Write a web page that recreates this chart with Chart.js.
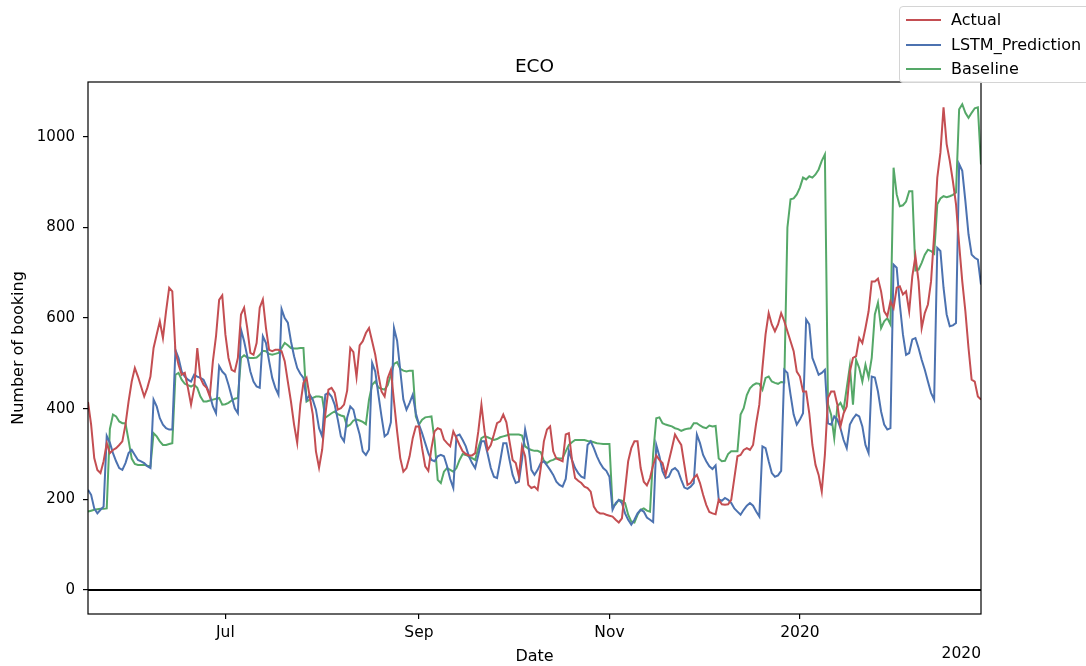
<!DOCTYPE html>
<html>
<head>
<meta charset="utf-8">
<script src="https://cdn.jsdelivr.net/npm/chart.js@4.4.1/dist/chart.umd.min.js"></script>
<style>
  html, body { margin: 0; padding: 0; background: #fff; overflow: hidden; }
  #wrap { position: relative; width: 1086px; height: 666px; }
  #leyenda {
    position: absolute; left: 899px; top: 6px; width: 200px; height: 75px;
    border: 1px solid #d4d4d4; border-radius: 4px; background: rgba(255,255,255,0.85);
    font-family: "DejaVu Sans", sans-serif; font-size: 16px; color: #000;
  }
  .fila { position: absolute; left: 0; height: 20px; line-height: 20px; white-space: nowrap; }
  .fila span.linea { position: absolute; left: 6px; top: 9px; width: 35px; height: 2px; }
  .fila span.txt { position: absolute; left: 51px; top: 0; }
</style>
</head>
<body>
<div id="wrap">
  <canvas id="grafico" width="1086" height="666"></canvas>
  <div id="leyenda"></div>
</div>
<script>
// dias desde el 2019-05-18, un valor por dia
const fechaInicio = new Date(2019, 4, 18);
const nombresSeries = ['Actual', 'LSTM_Prediction', 'Baseline'];
const coloresSeries = ['#c44e52', '#4c72b0', '#55a868'];

const actual = [
  415, 365, 291, 265, 258, 284, 324, 302, 309, 313, 320, 328, 365, 416, 460, 490, 471, 449, 427, 446,
  471, 534, 564, 593, 556, 615, 667, 659, 527, 497, 475, 479, 446, 409, 446,
  534, 468, 453, 446, 427, 505, 560, 640, 650, 564, 512, 486, 482, 512, 608, 623, 578, 523, 519, 545,
  623, 641, 578, 530, 527, 530, 530, 527, 505, 460, 416, 365, 325, 409, 457,
  468, 427, 387, 306, 270, 310, 387, 442, 446, 435, 398, 401, 409, 440, 534, 525, 470, 540, 549, 567,
  578, 549, 519, 475, 438, 427, 468, 486, 416, 350, 291, 261, 269, 295, 335, 361,
  361, 313, 273, 263, 313, 350, 357, 354, 332, 324, 317, 350, 335, 320, 306, 300, 297, 297, 302, 350,
  409, 350, 309, 320, 343, 368, 372, 387, 370, 328, 287, 280, 250, 317, 295,
  232, 225, 228, 221, 269, 328, 354, 361, 306, 290, 287, 284, 343, 346, 287, 247, 241, 236, 228, 225,
  217, 184, 173, 169, 169, 166, 164, 162, 155, 149, 158, 221, 284, 313, 328,
  328, 269, 239, 231, 247, 276, 297, 287, 280, 254, 284, 313, 343, 331, 320, 276, 232, 236, 247, 254,
  236, 210, 188, 172, 169, 167, 199, 189, 188, 189, 199, 247, 295, 298, 309,
  313, 309, 320, 368, 409, 490, 564, 611, 586, 571, 586, 611, 593, 571, 549, 527, 482, 471, 438, 438,
  390, 320, 276, 254, 217, 298, 424, 438, 438, 409, 361, 390, 405, 482, 512,
  516, 556, 545, 578, 615, 681, 681, 687, 659, 615, 604, 637, 622, 667, 670, 652, 659, 615, 692, 737,
  681, 578, 611, 630, 681, 785, 910, 965, 1065, 984, 947, 902, 851, 763, 681, 615, 534, 464, 460, 427, 420
];

const lstm = [
  221, 210, 180, 169, 177, 184, 340, 325, 302, 284, 269, 265, 280, 302, 309, 298, 287, 284, 280, 273,
  269, 420, 405, 379, 365, 357, 354, 354, 530, 512, 482, 471, 464, 460, 475,
  471, 468, 464, 449, 431, 405, 390, 494, 482, 475, 453, 427, 401, 390, 575, 549, 516, 482, 460, 449,
  446, 560, 545, 505, 468, 446, 431, 620, 600, 590, 549, 516, 490, 477, 468,
  420, 431, 420, 398, 357, 339, 431, 435, 427, 409, 376, 339, 328, 380, 405, 398, 368, 343, 306, 298,
  310, 501, 482, 431, 383, 339, 345, 370, 578, 550, 485, 420, 398, 413, 431, 390,
  365, 346, 324, 302, 287, 284, 295, 298, 295, 273, 245, 225, 340, 343, 331, 317, 295, 280, 269, 298,
  328, 328, 300, 269, 250, 247, 284, 324, 324, 287, 254, 236, 239, 287, 354,
  320, 265, 254, 265, 280, 284, 275, 265, 254, 239, 232, 228, 245, 307, 287, 269, 258, 250, 247, 320,
  328, 313, 295, 280, 269, 263, 250, 177, 192, 199, 192, 169, 155, 144, 155,
  169, 177, 173, 160, 155, 150, 320, 295, 262, 247, 250, 265, 269, 262, 243, 226, 223, 228, 236, 343,
  324, 298, 284, 273, 267, 275, 200, 197, 203, 199, 192, 180, 173, 166, 177,
  186, 192, 186, 173, 162, 317, 313, 284, 258, 250, 253, 263, 486, 479, 431, 387, 365, 376, 390, 597,
  586, 512, 494, 475, 479, 486, 368, 365, 383, 376, 357, 331, 313, 365, 378,
  387, 383, 361, 320, 302, 471, 469, 438, 394, 365, 354, 357, 718, 711, 630, 564, 519, 523, 553, 556,
  534, 508, 486, 460, 435, 420, 755, 748, 667, 608, 582, 584, 589, 940, 925, 858, 785, 740, 733, 729, 674
];

const baseline = [
  173, 175, 177, 178, 179, 179, 180, 355, 387, 383, 372, 368, 368, 330, 290, 278, 276, 276, 276, 274,
  273, 346, 339, 328, 320, 320, 322, 324, 475, 479, 464, 455, 452, 449, 453,
  446, 427, 416, 416, 418, 420, 422, 424, 409, 410, 413, 418, 422, 424, 512, 518, 513, 512, 512, 513,
  519, 528, 527, 521, 519, 521, 523, 534, 545, 540, 534, 533, 533, 534, 534,
  416, 420, 424, 427, 427, 425, 380, 385, 390, 394, 388, 385, 383, 361, 365, 374, 376, 374, 371, 366,
  420, 453, 460, 447, 444, 442, 452, 475, 499, 503, 488, 484, 482, 484, 484, 383,
  365, 376, 381, 382, 383, 330, 243, 236, 261, 269, 265, 261, 269, 287, 300, 298, 295, 291, 287, 313,
  335, 339, 337, 334, 331, 333, 337, 339, 341, 343, 343, 343, 343, 341, 317,
  312, 309, 307, 307, 304, 285, 280, 285, 287, 291, 290, 291, 306, 320, 326, 331, 331, 331, 331, 329,
  328, 326, 324, 323, 322, 322, 322, 184, 189, 199, 197, 192, 166, 151, 149,
  166, 177, 180, 175, 173, 300, 379, 381, 368, 365, 363, 361, 357, 355, 351, 354, 356, 357, 368, 368,
  363, 359, 357, 363, 361, 362, 290, 284, 285, 300, 306, 306, 306, 387, 401,
  430, 445, 452, 456, 455, 442, 468, 471, 460, 457, 455, 459, 458, 800, 862, 864, 873, 888, 910, 906,
  913, 910, 917, 928, 947, 961, 410, 387, 335, 405, 413, 398, 446, 494, 409,
  508, 490, 460, 497, 469, 512, 608, 634, 578, 593, 600, 586, 932, 873, 847, 849, 857, 880, 880, 705,
  707, 722, 740, 751, 748, 742, 851, 864, 869, 867, 869, 872, 877, 1061, 1072, 1053, 1042, 1053, 1063, 1065, 939
];

// marcas del eje x
const fechasTicks = [new Date(2019, 6, 1), new Date(2019, 8, 1), new Date(2019, 10, 1), new Date(2020, 0, 1)];
const etiquetasTicks = ['Jul', 'Sep', 'Nov', '2020'];
const valoresY = [0, 200, 400, 600, 800, 1000];

const DIA = 24 * 3600 * 1000;
const diasTicks = fechasTicks.map(f => Math.round((f - fechaInicio) / DIA));
const ultimoDia = actual.length - 1;

function aPuntos(serie) {
    return serie.map((v, i) => ({ x: i, y: v }));
}

const fuente = '"DejaVu Sans", sans-serif';

// marco, titulo y texto de desplazamiento "2020"
const decoracion = {
    id: 'decoracion',
    afterDraw(chart) {
        const { ctx, chartArea: a } = chart;
        ctx.save();
        ctx.strokeStyle = '#000';
        ctx.lineWidth = 1.2;
        ctx.strokeRect(a.left, a.top, a.right - a.left, a.bottom - a.top);
        ctx.fillStyle = '#000';
        ctx.font = '18.5px ' + fuente;
        ctx.textAlign = 'center';
        ctx.textBaseline = 'alphabetic';
        ctx.fillText('ECO', (a.left + a.right) / 2, a.top - 10);
        ctx.font = '15.5px ' + fuente;
        ctx.textAlign = 'right';
        ctx.fillText('2020', a.right, 658);
        ctx.restore();
    }
};

const ctx = document.getElementById('grafico').getContext('2d');
new Chart(ctx, {
    type: 'line',
    data: {
        datasets: [
            { label: nombresSeries[0], data: aPuntos(actual), borderColor: coloresSeries[0] },
            { label: nombresSeries[1], data: aPuntos(lstm), borderColor: coloresSeries[1] },
            { label: nombresSeries[2], data: aPuntos(baseline), borderColor: coloresSeries[2] },
            { label: 'cero', data: [{ x: 0, y: 0 }, { x: ultimoDia, y: 0 }], borderColor: '#000', borderWidth: 2.2 }
        ]
    },
    options: {
        responsive: false,
        animation: false,
        devicePixelRatio: 1,
        layout: { padding: { left: 0, right: 105, top: 82, bottom: 0 } },
        elements: {
            point: { radius: 0 },
            line: { borderWidth: 2, tension: 0, fill: false }
        },
        plugins: {
            legend: { display: false },
            title: { display: false },
            tooltip: { enabled: false }
        },
        scales: {
            x: {
                type: 'linear',
                min: 0,
                max: ultimoDia,
                afterFit: s => { s.height = 52; },
                afterBuildTicks: s => { s.ticks = diasTicks.map(v => ({ value: v })); },
                ticks: {
                    callback: v => etiquetasTicks[diasTicks.indexOf(v)],
                    color: '#000',
                    font: { family: fuente, size: 15.5 },
                    padding: 5,
                    maxRotation: 0,
                    autoSkip: false
                },
                grid: { drawOnChartArea: false, drawTicks: true, tickLength: 5, color: '#000', lineWidth: 1.2 },
                border: { display: false },
                title: { display: true, text: 'Date', color: '#000', font: { family: fuente, size: 16 }, padding: { top: 0, bottom: 0 } }
            },
            y: {
                type: 'linear',
                min: -53,
                max: 1121,
                afterFit: s => { s.width = 88; },
                afterBuildTicks: s => { s.ticks = valoresY.map(v => ({ value: v })); },
                ticks: {
                    callback: v => String(v),
                    color: '#000',
                    font: { family: fuente, size: 15 },
                    padding: 8
                },
                grid: { drawOnChartArea: false, drawTicks: true, tickLength: 5, color: '#000', lineWidth: 1.2 },
                border: { display: false },
                title: { display: true, text: 'Number of booking', color: '#000', font: { family: fuente, size: 16 }, padding: { top: 9, bottom: 0 } }
            }
        }
    },
    plugins: [decoracion]
});

// leyenda fuera del area, arriba a la derecha
const leyenda = document.getElementById('leyenda');
nombresSeries.forEach((nombre, i) => {
    const fila = document.createElement('div');
    fila.className = 'fila';
    fila.style.top = (3 + i * 24.5) + 'px';
    fila.innerHTML = '<span class="linea" style="background:' + coloresSeries[i] + '"></span><span class="txt">' + nombre + '</span>';
    leyenda.appendChild(fila);
});
</script>
</body>
</html>
